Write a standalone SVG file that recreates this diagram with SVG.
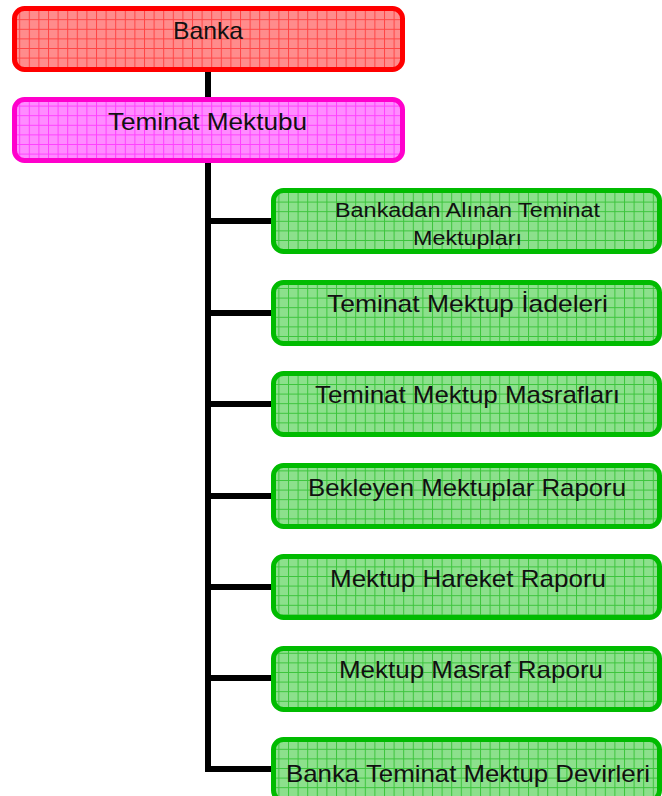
<svg xmlns="http://www.w3.org/2000/svg" width="662" height="796" viewBox="0 0 662 796">
<defs>
<pattern id="pRed" width="9.6" height="9.6" patternUnits="userSpaceOnUse">
<rect width="9.6" height="9.6" fill="#ff8c8c"/>
<path d="M0 0.5H9.6M0.5 0V9.6" stroke="#ff4545" stroke-width="1"/>
</pattern>
<pattern id="pPink" width="9.6" height="9.6" patternUnits="userSpaceOnUse">
<rect width="9.6" height="9.6" fill="#ff8cff"/>
<path d="M0 0.5H9.6M0.5 0V9.6" stroke="#ff40ff" stroke-width="1"/>
</pattern>
<pattern id="pGreen" width="9.6" height="9.6" patternUnits="userSpaceOnUse">
<rect width="9.6" height="9.6" fill="#8ce08c"/>
<path d="M0 0.5H9.6M0.5 0V9.6" stroke="#3cc43c" stroke-width="1"/>
</pattern>
</defs>
<style>
.box{stroke-width:5}
.red{fill:url(#pRed);stroke:#ff0000}
.pink{fill:url(#pPink);stroke:#ff00cc}
.green{fill:url(#pGreen);stroke:#00bb00}
text{font-family:"Liberation Sans","DejaVu Sans",sans-serif;fill:#111;text-anchor:middle}
.t1{font-size:24px}
.t2{font-size:24px}
.t3{font-size:20px}
.conn{stroke:#000;stroke-width:6;fill:none;stroke-linejoin:miter}
</style>
<g id="connectors">
<path class="conn" d="M208 70V99"/>
<path class="conn" d="M208 161V769H273"/>
<path class="conn" d="M208 221H273M208 313H273M208 404H273M208 496H273M208 587H273M208 678H273"/>
</g>
<g id="banka">
<rect class="box red" x="14.5" y="8.5" width="388" height="61" rx="10"/>
<text class="t1" x="208" y="39" textLength="70" lengthAdjust="spacingAndGlyphs">Banka</text>
</g>
<g id="teminat-mektubu">
<rect class="box pink" x="14.5" y="99.5" width="388" height="61" rx="10"/>
<text class="t1" x="207.5" y="130" textLength="199" lengthAdjust="spacingAndGlyphs">Teminat Mektubu</text>
</g>
<g id="n1">
<rect class="box green" x="273.5" y="190.5" width="386" height="61" rx="10"/>
<text class="t3" x="467.5" y="217" textLength="265" lengthAdjust="spacingAndGlyphs">Bankadan Alınan Teminat</text>
<text class="t3" x="467.5" y="245" textLength="109" lengthAdjust="spacingAndGlyphs">Mektupları</text>
</g>
<g id="n2">
<rect class="box green" x="273.5" y="282.5" width="386" height="61" rx="10"/>
<text class="t2" x="467.5" y="312" textLength="281" lengthAdjust="spacingAndGlyphs">Teminat Mektup İadeleri</text>
</g>
<g id="n3">
<rect class="box green" x="273.5" y="373.5" width="386" height="61" rx="10"/>
<text class="t2" x="467.5" y="403" textLength="305" lengthAdjust="spacingAndGlyphs">Teminat Mektup Masrafları</text>
</g>
<g id="n4">
<rect class="box green" x="273.5" y="465.5" width="386" height="61" rx="10"/>
<text class="t2" x="467" y="496" textLength="318" lengthAdjust="spacingAndGlyphs">Bekleyen Mektuplar Raporu</text>
</g>
<g id="n5">
<rect class="box green" x="273.5" y="556.5" width="386" height="61" rx="10"/>
<text class="t2" x="468" y="587" textLength="276" lengthAdjust="spacingAndGlyphs">Mektup Hareket Raporu</text>
</g>
<g id="n6">
<rect class="box green" x="273.5" y="648.5" width="386" height="61" rx="10"/>
<text class="t2" x="471" y="678" textLength="264" lengthAdjust="spacingAndGlyphs">Mektup Masraf Raporu</text>
</g>
<g id="n7">
<rect class="box green" x="273.5" y="739.5" width="386" height="61" rx="10"/>
<text class="t2" x="468" y="782" textLength="364" lengthAdjust="spacingAndGlyphs">Banka Teminat Mektup Devirleri</text>
</g>
</svg>
